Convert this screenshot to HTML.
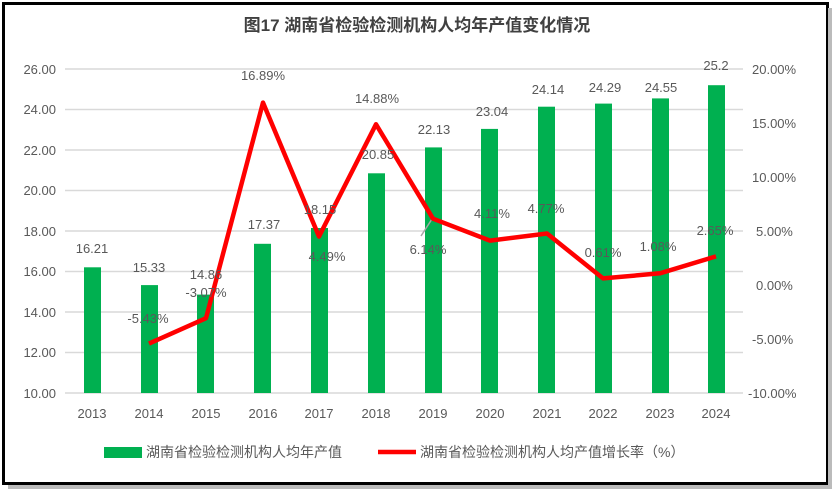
<!DOCTYPE html>
<html><head><meta charset="utf-8"><style>
html,body{margin:0;padding:0;background:#fff;}
svg{display:block;}
text{font-family:"Liberation Sans","Noto Sans CJK SC",sans-serif;fill:#595959;font-size:13px;}
</style></head><body>
<svg width="834" height="491" viewBox="0 0 834 491">
<rect x="0" y="0" width="834" height="491" fill="#fff"/>
<rect x="3.5" y="3.5" width="824" height="480" fill="#fff" stroke="#000" stroke-width="3"/>
<rect x="828" y="8" width="4" height="478" fill="#bbb"/>
<rect x="8" y="485" width="824" height="4" fill="#bbb"/>
<text x="417" y="31" text-anchor="middle" style="font-size:17px;font-weight:bold;fill:#404040">图17 湖南省检验检测机构人均年产值变化情况</text>
<g stroke="#d9d9d9" stroke-width="1.5">
<line x1="65" x2="743" y1="69" y2="69"/><line x1="65" x2="743" y1="109.5" y2="109.5"/>
<line x1="65" x2="743" y1="150" y2="150"/><line x1="65" x2="743" y1="190.5" y2="190.5"/>
<line x1="65" x2="743" y1="231" y2="231"/><line x1="65" x2="743" y1="271.5" y2="271.5"/>
<line x1="65" x2="743" y1="312" y2="312"/><line x1="65" x2="743" y1="352.5" y2="352.5"/>
<line x1="65" x2="743" y1="393" y2="393"/>
</g>
<g text-anchor="end">
<text x="56" y="74">26.00</text><text x="56" y="114">24.00</text><text x="56" y="155">22.00</text>
<text x="56" y="195">20.00</text><text x="56" y="236">18.00</text><text x="56" y="276">16.00</text>
<text x="56" y="317">14.00</text><text x="56" y="357">12.00</text><text x="56" y="398">10.00</text>
</g>
<g text-anchor="start">
<text x="752" y="74">20.00%</text><text x="752" y="128">15.00%</text><text x="752" y="182">10.00%</text>
<text x="756" y="236">5.00%</text><text x="756" y="290">0.00%</text><text x="752" y="344">-5.00%</text>
<text x="748" y="398">-10.00%</text>
</g>
<g fill="#00b050">
<rect x="84" y="267.3" width="17" height="125.7"/>
<rect x="141" y="285.1" width="17" height="107.9"/>
<rect x="197" y="294.6" width="17" height="98.4"/>
<rect x="254" y="243.8" width="17" height="149.2"/>
<rect x="311" y="228" width="17" height="165"/>
<rect x="368" y="173.3" width="17" height="219.7"/>
<rect x="425" y="147.4" width="17" height="245.6"/>
<rect x="481" y="128.9" width="17" height="264.1"/>
<rect x="538" y="106.7" width="17" height="286.3"/>
<rect x="595" y="103.6" width="17" height="289.4"/>
<rect x="652" y="98.4" width="17" height="294.6"/>
<rect x="708" y="85.2" width="17" height="307.8"/>
</g>
<line x1="432" y1="219" x2="421" y2="236" stroke="#a6a6a6" stroke-width="1.5"/>
<polyline fill="none" stroke="#ff0000" stroke-width="4.5" stroke-linejoin="round" points="149,343.6 206,318.2 263,102.6 319,236.5 376,124.3 433,218.7 490,240.6 547,233.5 603,278.4 660,273.3 716,256.4"/>
<g text-anchor="middle">
<text x="92" y="253">16.21</text><text x="149" y="272">15.33</text><text x="206" y="279">14.86</text>
<text x="264" y="229">17.37</text><text x="320" y="214">18.15</text><text x="378" y="159">20.85</text>
<text x="434" y="134">22.13</text><text x="492" y="116">23.04</text><text x="548" y="94">24.14</text>
<text x="605" y="92">24.29</text><text x="661" y="92">24.55</text><text x="716" y="70">25.2</text>
<text x="148" y="323">-5.43%</text><text x="206" y="297">-3.07%</text><text x="263" y="80">16.89%</text>
<text x="327" y="261">4.49%</text><text x="377" y="103">14.88%</text><text x="428" y="254">6.14%</text>
<text x="492" y="218">4.11%</text><text x="546" y="213">4.77%</text><text x="603" y="257">0.61%</text>
<text x="658" y="251">1.08%</text><text x="715" y="235">2.65%</text>
</g>
<g text-anchor="middle">
<text x="92" y="418">2013</text><text x="149" y="418">2014</text><text x="206" y="418">2015</text>
<text x="263" y="418">2016</text><text x="319" y="418">2017</text><text x="376" y="418">2018</text>
<text x="433" y="418">2019</text><text x="490" y="418">2020</text><text x="547" y="418">2021</text>
<text x="603" y="418">2022</text><text x="660" y="418">2023</text><text x="716" y="418">2024</text>
</g>
<rect x="104" y="447" width="38" height="11" fill="#00b050"/>
<text x="146" y="457" style="font-size:14px">湖南省检验检测机构人均年产值</text>
<line x1="378" y1="452" x2="416" y2="452" stroke="#ff0000" stroke-width="4.5"/>
<text x="420" y="457" style="font-size:14px">湖南省检验检测机构人均产值增长率（%）</text>
</svg>
</body></html>
